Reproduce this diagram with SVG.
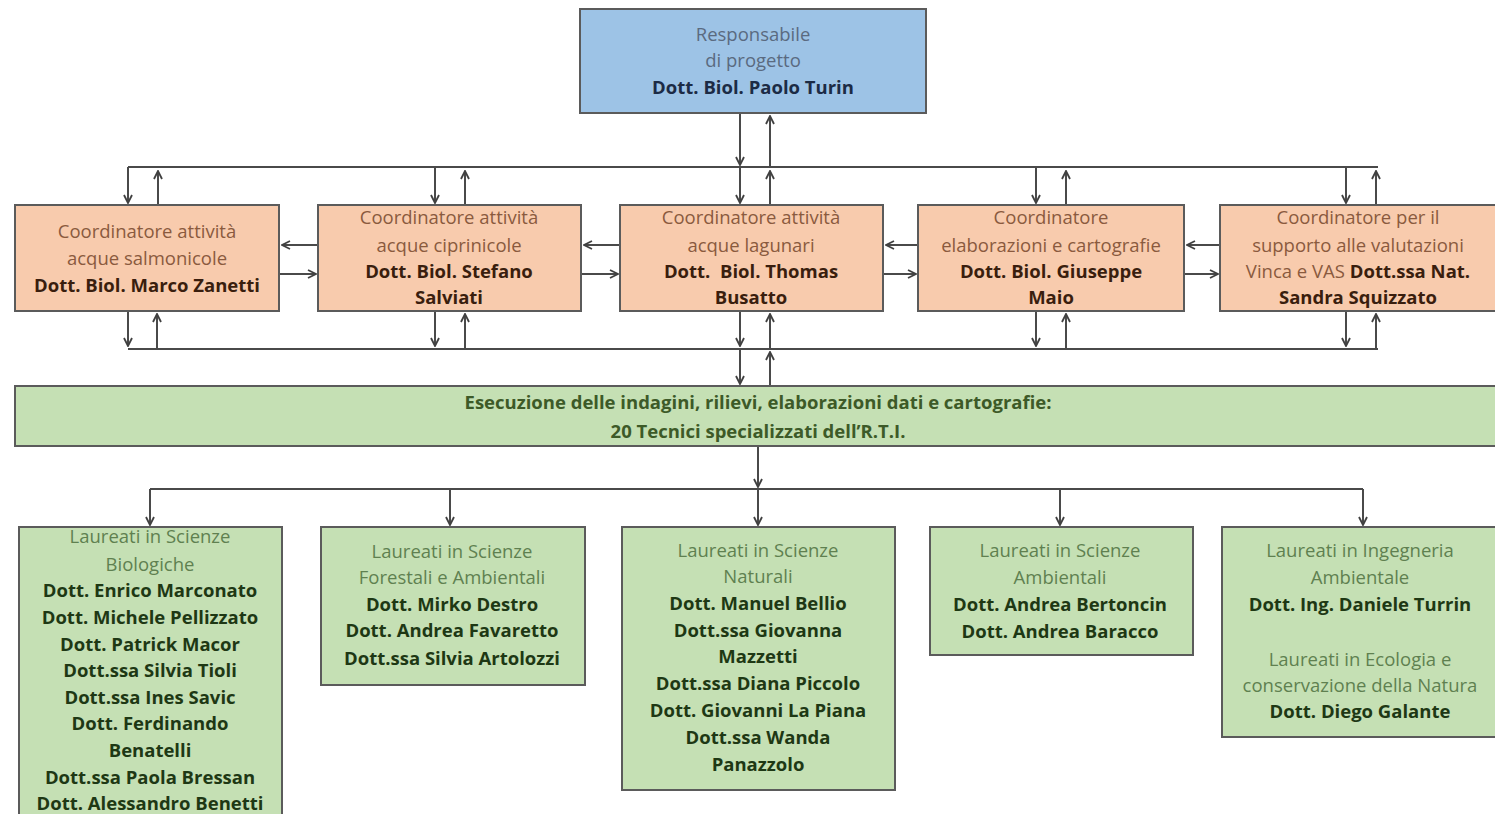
<svg xmlns="http://www.w3.org/2000/svg" width="1495" height="814" viewBox="0 0 1495 814">
<defs>
<marker id="ah" viewBox="0 0 10 10" refX="9" refY="5" markerWidth="10" markerHeight="10" markerUnits="userSpaceOnUse" orient="auto">
<path d="M1,1 L9,5 L1,9" fill="none" stroke="#404040" stroke-width="1.8"/>
</marker>
</defs>
<style>
text{font-family:"Open Sans","Liberation Sans",sans-serif;font-size:18.5px;text-anchor:middle}
.b{font-weight:bold}
.box{stroke:#5b5b5b;stroke-width:2}
.blue{fill:#9dc3e6}
.or{fill:#f8cbad}
.gr{fill:#c5e0b4}
.tb{fill:#5a6a80}.tbb{fill:#1c2b45}
.to{fill:#8a5a3e}.tob{fill:#3a1e0e}
.tg{fill:#5f8050}.tgb{fill:#1e3814}
.ln{stroke:#4a4a4a;stroke-width:2;fill:none}
.ar{stroke:#4a4a4a;stroke-width:2;fill:none;marker-end:url(#ah)}
</style>
<rect width="1495" height="814" fill="#ffffff"/>
<g id="connectors">
<line class="ln" x1="128" y1="167" x2="1378" y2="167"/>
<line class="ln" x1="128" y1="349" x2="1378" y2="349"/>
<line class="ln" x1="150" y1="489" x2="1363" y2="489"/>
<line class="ar" x1="740" y1="113" x2="740" y2="165"/>
<line class="ar" x1="770" y1="167" x2="770" y2="116"/>
<line class="ar" x1="128" y1="167" x2="128" y2="203"/><line class="ar" x1="158" y1="205" x2="158" y2="171"/>
<line class="ar" x1="435" y1="167" x2="435" y2="203"/><line class="ar" x1="465" y1="205" x2="465" y2="171"/>
<line class="ar" x1="740" y1="167" x2="740" y2="203"/><line class="ar" x1="770" y1="205" x2="770" y2="171"/>
<line class="ar" x1="1036" y1="167" x2="1036" y2="203"/><line class="ar" x1="1066" y1="205" x2="1066" y2="171"/>
<line class="ar" x1="1346" y1="167" x2="1346" y2="203"/><line class="ar" x1="1376" y1="205" x2="1376" y2="171"/>
<line class="ar" x1="128" y1="311" x2="128" y2="346"/><line class="ar" x1="157" y1="349" x2="157" y2="314"/>
<line class="ar" x1="435" y1="311" x2="435" y2="346"/><line class="ar" x1="465" y1="349" x2="465" y2="314"/>
<line class="ar" x1="740" y1="311" x2="740" y2="346"/><line class="ar" x1="770" y1="349" x2="770" y2="314"/>
<line class="ar" x1="1036" y1="311" x2="1036" y2="346"/><line class="ar" x1="1066" y1="349" x2="1066" y2="314"/>
<line class="ar" x1="1346" y1="311" x2="1346" y2="346"/><line class="ar" x1="1376" y1="349" x2="1376" y2="314"/>
<line class="ar" x1="740" y1="349" x2="740" y2="384"/><line class="ar" x1="770" y1="386" x2="770" y2="352"/>
<line class="ar" x1="318" y1="245" x2="282" y2="245"/><line class="ar" x1="279" y1="274" x2="316" y2="274"/>
<line class="ar" x1="620" y1="245" x2="584" y2="245"/><line class="ar" x1="581" y1="274" x2="618" y2="274"/>
<line class="ar" x1="918" y1="245" x2="886" y2="245"/><line class="ar" x1="883" y1="274" x2="916" y2="274"/>
<line class="ar" x1="1220" y1="245" x2="1187" y2="245"/><line class="ar" x1="1184" y1="274" x2="1218" y2="274"/>
<line class="ar" x1="758" y1="446" x2="758" y2="487"/>
<line class="ar" x1="150" y1="489" x2="150" y2="525"/>
<line class="ar" x1="450" y1="489" x2="450" y2="525"/>
<line class="ar" x1="758" y1="489" x2="758" y2="525"/>
<line class="ar" x1="1060" y1="489" x2="1060" y2="525"/>
<line class="ar" x1="1363" y1="489" x2="1363" y2="525"/>
</g>
<g id="resp">
<rect class="box blue" x="580" y="9" width="346" height="104"/>
<text x="753" y="41" class="tb">Responsabile</text>
<text x="753" y="67" class="tb">di progetto</text>
<text x="753" y="94" class="b tbb">Dott. Biol. Paolo Turin</text>
</g>
<g id="coord1">
<rect class="box or" x="15" y="205" width="264" height="106"/>
<text x="147" y="238" class="to">Coordinatore attività</text>
<text x="147" y="265" class="to">acque salmonicole</text>
<text x="147" y="292" class="b tob">Dott. Biol. Marco Zanetti</text>
</g>
<g id="coord2">
<rect class="box or" x="318" y="205" width="263" height="106"/>
<text x="449" y="224" class="to">Coordinatore attività</text>
<text x="449" y="252" class="to">acque ciprinicole</text>
<text x="449" y="278" class="b tob">Dott. Biol. Stefano</text>
<text x="449" y="304" class="b tob">Salviati</text>
</g>
<g id="coord3">
<rect class="box or" x="620" y="205" width="263" height="106"/>
<text x="751" y="224" class="to">Coordinatore attività</text>
<text x="751" y="252" class="to">acque lagunari</text>
<text x="751" y="278" class="b tob" xml:space="preserve">Dott.  Biol. Thomas</text>
<text x="751" y="304" class="b tob">Busatto</text>
</g>
<g id="coord4">
<rect class="box or" x="918" y="205" width="266" height="106"/>
<text x="1051" y="224" class="to">Coordinatore</text>
<text x="1051" y="252" class="to">elaborazioni e cartografie</text>
<text x="1051" y="278" class="b tob">Dott. Biol. Giuseppe</text>
<text x="1051" y="304" class="b tob">Maio</text>
</g>
<g id="coord5">
<rect class="box or" x="1220" y="205" width="285" height="106"/>
<text x="1358" y="224" class="to">Coordinatore per il</text>
<text x="1358" y="252" class="to">supporto alle valutazioni</text>
<text x="1358" y="278" class="to">Vinca e VAS <tspan class="b tob">Dott.ssa Nat.</tspan></text>
<text x="1358" y="304" class="b tob">Sandra Squizzato</text>
</g>
<g id="esecuzione">
<rect class="box gr" x="15" y="386" width="1490" height="60"/>
<text x="758" y="409" class="b" fill="#3d5a28">Esecuzione delle indagini, rilievi, elaborazioni dati e cartografie:</text>
<text x="758" y="438" class="b" fill="#3d5a28">20 Tecnici specializzati dell’R.T.I.</text>
</g>
<g id="biologiche">
<rect class="box gr" x="19" y="527" width="263" height="300"/>
<text x="150" y="543" class="tg">Laureati in Scienze</text>
<text x="150" y="571" class="tg">Biologiche</text>
<text x="150" y="597" class="b tgb">Dott. Enrico Marconato</text>
<text x="150" y="624" class="b tgb">Dott. Michele Pellizzato</text>
<text x="150" y="651" class="b tgb">Dott. Patrick Macor</text>
<text x="150" y="677" class="b tgb">Dott.ssa Silvia Tioli</text>
<text x="150" y="704" class="b tgb">Dott.ssa Ines Savic</text>
<text x="150" y="730" class="b tgb">Dott. Ferdinando</text>
<text x="150" y="757" class="b tgb">Benatelli</text>
<text x="150" y="784" class="b tgb">Dott.ssa Paola Bressan</text>
<text x="150" y="810" class="b tgb">Dott. Alessandro Benetti</text>
</g>
<g id="forestali">
<rect class="box gr" x="321" y="527" width="264" height="158"/>
<text x="452" y="558" class="tg">Laureati in Scienze</text>
<text x="452" y="584" class="tg">Forestali e Ambientali</text>
<text x="452" y="611" class="b tgb">Dott. Mirko Destro</text>
<text x="452" y="637" class="b tgb">Dott. Andrea Favaretto</text>
<text x="452" y="665" class="b tgb">Dott.ssa Silvia Artolozzi</text>
</g>
<g id="naturali">
<rect class="box gr" x="622" y="527" width="273" height="263"/>
<text x="758" y="557" class="tg">Laureati in Scienze</text>
<text x="758" y="583" class="tg">Naturali</text>
<text x="758" y="610" class="b tgb">Dott. Manuel Bellio</text>
<text x="758" y="637" class="b tgb">Dott.ssa Giovanna</text>
<text x="758" y="663" class="b tgb">Mazzetti</text>
<text x="758" y="690" class="b tgb">Dott.ssa Diana Piccolo</text>
<text x="758" y="717" class="b tgb">Dott. Giovanni La Piana</text>
<text x="758" y="744" class="b tgb">Dott.ssa Wanda</text>
<text x="758" y="771" class="b tgb">Panazzolo</text>
</g>
<g id="ambientali">
<rect class="box gr" x="930" y="527" width="263" height="128"/>
<text x="1060" y="557" class="tg">Laureati in Scienze</text>
<text x="1060" y="584" class="tg">Ambientali</text>
<text x="1060" y="611" class="b tgb">Dott. Andrea Bertoncin</text>
<text x="1060" y="638" class="b tgb">Dott. Andrea Baracco</text>
</g>
<g id="ingegneria">
<rect class="box gr" x="1222" y="527" width="283" height="210"/>
<text x="1360" y="557" class="tg">Laureati in Ingegneria</text>
<text x="1360" y="584" class="tg">Ambientale</text>
<text x="1360" y="611" class="b tgb">Dott. Ing. Daniele Turrin</text>
<text x="1360" y="666" class="tg">Laureati in Ecologia e</text>
<text x="1360" y="692" class="tg">conservazione della Natura</text>
<text x="1360" y="718" class="b tgb">Dott. Diego Galante</text>
</g>
</svg>
